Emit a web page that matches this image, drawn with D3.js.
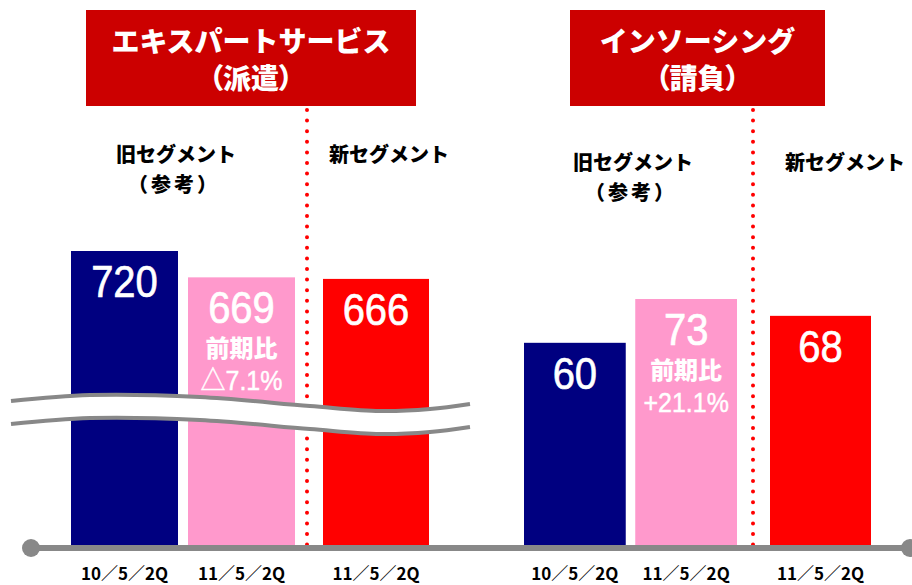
<!DOCTYPE html>
<html>
<head>
<meta charset="utf-8">
<script src="https://cdn.jsdelivr.net/npm/d3@7"></script>
<style>
  body { margin: 0; background: #fff; }
  svg { display: block; }
  .jp { font-family: "Noto Sans CJK JP", sans-serif; font-weight: 700; }
  .num { font-family: "Liberation Sans", Arial, "Noto Sans CJK JP", sans-serif; }
</style>
</head>
<body>
<div id="chart"></div>
<script>
// data
var segments = ['エキスパートサービス', 'インソーシング'];
var segmentSubs = ['（派遣）', '（請負）'];
var periods = ['10／5／2Q', '11／5／2Q', '11／5／2Q'];
var expertValues = [720, 669, 666];
var insourcingValues = [60, 73, 68];
var changeLabels = ['△7.1%', '+21.1%'];
var oldSegmentLabel = ['旧セグメント', '（参考）'];
var newSegmentLabel = '新セグメント';
var changeTitle = '前期比';

var W = 912, H = 585, base = 545;
var colors = ['#000080', '#ff99cc', '#ff0000'];

var svg = d3.select('#chart')
  .append('svg')
  .attr('width', W)
  .attr('height', H);

// layout of the two panels
var groups = [
  { title: segments[0], sub: segmentSubs[0], values: expertValues, change: changeLabels[0],
    box: [86, 416], old: [71, 295], neu: [323, 429], divider: 307,
    yDomain: [151, 720], yTop: 251, oldX: 176, newX: 389, textDy: 0, broken: true },
  { title: segments[1], sub: segmentSubs[1], values: insourcingValues, change: changeLabels[1],
    box: [570, 825], old: [524, 737], neu: [770, 871], divider: 753,
    yDomain: [0, 73], yTop: 299, oldX: 633, newX: 845, textDy: 8, broken: false }
];

// tall digits like the original deck font
function tallText(sel, x, y, sy) {
  return sel.attr('transform', 'translate(' + x + ',' + y + ') scale(1,' + sy + ')');
}

groups.forEach(function(g) {
  var xOld = d3.scaleBand().domain([0, 1]).range(g.old).paddingInner(10 / 117).paddingOuter(0);
  var xNew = d3.scaleBand().domain([2]).range(g.neu);
  var y = d3.scaleLinear().domain(g.yDomain).range([base, g.yTop]);
  var xPos = function(i) { return i < 2 ? xOld(i) : xNew(i); };
  var bw = function(i) { return i < 2 ? xOld.bandwidth() : xNew.bandwidth(); };

  var rows = g.values.map(function(v, i) { return { v: v, i: i, period: periods[i] }; });
  var gg = svg.append('g');

  // title box
  gg.append('rect')
    .attr('x', g.box[0]).attr('y', 10)
    .attr('width', g.box[1] - g.box[0]).attr('height', 96)
    .attr('fill', '#cc0000');
  var cx = (g.box[0] + g.box[1]) / 2;
  gg.append('text').attr('class', 'jp')
    .attr('x', cx).attr('y', 52)
    .attr('text-anchor', 'middle').attr('fill', '#fff')
    .style('font-size', '28px').style('font-weight', 900)
    .text(g.title);
  gg.append('text').attr('class', 'jp')
    .attr('x', cx).attr('y', 89)
    .attr('text-anchor', 'middle').attr('fill', '#fff')
    .style('font-size', '28px').style('font-weight', 900)
    .style('font-feature-settings', '"palt"')
    .text(g.sub);

  // segment headings
  gg.append('text').attr('class', 'jp')
    .attr('x', g.oldX).attr('y', 162 + g.textDy)
    .attr('text-anchor', 'middle').style('font-size', '20px').style('font-weight', 900)
    .text(oldSegmentLabel[0]);
  gg.append('text').attr('class', 'jp')
    .attr('x', g.oldX - 2).attr('y', 192 + g.textDy)
    .attr('text-anchor', 'middle').style('font-size', '20px').style('font-weight', 900)
    .style('letter-spacing', '3px')
    .text(oldSegmentLabel[1]);
  gg.append('text').attr('class', 'jp')
    .attr('x', g.newX).attr('y', 162 + g.textDy)
    .attr('text-anchor', 'middle').style('font-size', '20px').style('font-weight', 900)
    .text(newSegmentLabel);

  // bars
  gg.selectAll('rect.bar').data(rows).enter().append('rect')
    .attr('class', 'bar')
    .attr('x', function(d) { return xPos(d.i); })
    .attr('y', function(d) { return y(d.v); })
    .attr('width', function(d) { return bw(d.i); })
    .attr('height', function(d) { return base - y(d.v); })
    .attr('fill', function(d) { return colors[d.i]; });

  // values in bars
  gg.selectAll('text.val').data(rows).enter().append('text')
    .attr('class', 'val num')
    .each(function(d) { tallText(d3.select(this), xPos(d.i) + bw(d.i) / 2, y(d.v) + 46, 1.12); })
    .attr('text-anchor', 'middle').attr('fill', '#fff')
    .attr('stroke', '#fff').attr('stroke-width', 0.6)
    .style('font-size', '40px')
    .text(function(d) { return d.v; });

  // change vs previous period (pink bar)
  var p = rows[1];
  var px = xPos(1) + bw(1) / 2;
  gg.append('text').attr('class', 'jp')
    .attr('x', px).attr('y', y(p.v) + 80)
    .attr('text-anchor', 'middle').attr('fill', '#fff')
    .style('font-size', '24px').style('font-weight', 900)
    .text(changeTitle);
  gg.append('text').attr('class', 'num')
    .call(tallText, px, y(p.v) + 113, 1.1)
    .attr('text-anchor', 'middle').attr('fill', '#fff')
    .attr('stroke', '#fff').attr('stroke-width', 0.4)
    .style('font-size', '25px')
    .text(g.change);

  // dotted divider between old and new segment
  gg.append('line')
    .attr('x1', g.divider).attr('x2', g.divider)
    .attr('y1', 110).attr('y2', base)
    .attr('stroke', '#ff0000').attr('stroke-width', 4)
    .attr('stroke-linecap', 'round')
    .attr('stroke-dasharray', '0 10.6');

  // period labels
  gg.selectAll('text.period').data(rows).enter().append('text')
    .attr('class', 'period jp')
    .attr('x', function(d) { return xPos(d.i) + bw(d.i) / 2; })
    .attr('y', 580)
    .attr('text-anchor', 'middle')
    .style('font-size', '17px')
    .text(function(d) { return d.period; });

  // axis break on the left panel
  if (g.broken) {
    var wave = [[11, 401], [90, 395], [200, 397], [310, 406], [380, 411], [430, 409], [470, 404]];
    var gap = 23;
    var line = d3.line().curve(d3.curveCatmullRom.alpha(0.5));
    var upper = wave;
    var lower = wave.map(function(d) { return [d[0], d[1] + gap]; });
    gg.append('path')
      .attr('d', line(upper) + 'L' + line(lower.slice().reverse()).slice(1) + 'Z')
      .attr('fill', '#fff');
    [upper, lower].forEach(function(pts) {
      gg.append('path')
        .attr('d', line(pts))
        .attr('fill', 'none')
        .attr('stroke', '#888')
        .attr('stroke-width', 4);
    });
  }
});

// base axis line
svg.append('line')
  .attr('x1', 31).attr('x2', W)
  .attr('y1', 548).attr('y2', 548)
  .attr('stroke', '#888').attr('stroke-width', 6);
svg.selectAll('circle.end').data([31, 910]).enter().append('circle')
  .attr('class', 'end')
  .attr('cx', function(d) { return d; }).attr('cy', 548)
  .attr('r', 9).attr('fill', '#888');
</script>
</body>
</html>
